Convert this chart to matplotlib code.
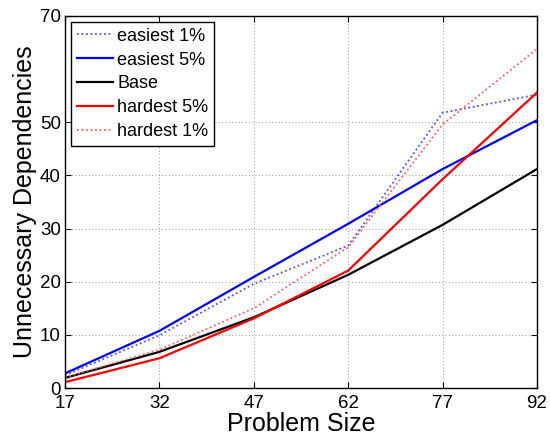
import matplotlib
matplotlib.use("Agg")
import matplotlib.pyplot as plt

plt.rcParams['font.family'] = ['Liberation Sans', 'DejaVu Sans']

sizes = [17, 32, 47, 62, 77, 92]
easiest1 = [2.4, 9.9, 19.6, 26.8, 51.8, 55.2]
easiest5 = [2.75, 10.75, 20.9, 30.9, 41.2, 50.4]
base = [1.9, 6.8, 13.3, 21.3, 30.7, 41.2]
hardest5 = [1.1, 5.6, 13.1, 22.1, 39.3, 55.6]
hardest1 = [2.0, 7.2, 15.0, 26.5, 49.6, 63.8]
yticks = [0, 10, 20, 30, 40, 50, 70]

fig = plt.figure(figsize=(5.5, 4.36), dpi=100)
ax = fig.add_axes([65/550, 1-388/436, (537-65)/550, (388-16)/436])

ax.plot(sizes, easiest1, color='#5050ff', linestyle=(0, (1, 1.5)), linewidth=1.3, label='easiest 1%')
ax.plot(sizes, easiest5, color='#0000ff', linestyle='-', linewidth=1.6, label='easiest 5%')
ax.plot(sizes, base, color='black', linestyle='-', linewidth=1.6, label='Base')
ax.plot(sizes, hardest5, color='#ff0000', linestyle='-', linewidth=1.6, label='hardest 5%')
ax.plot(sizes, hardest1, color='#ff6060', linestyle=(0, (1, 1.5)), linewidth=1.3, label='hardest 1%')

ax.set_xlim(17, 92)
ax.set_ylim(0, 70)
ax.set_xticks(sizes)
ax.set_yticks(yticks)
ax.tick_params(direction='in', top=True, right=True, labelsize=13.5, length=4, width=0.8)
ax.tick_params(axis='x', pad=5)
ax.tick_params(axis='y', pad=3)
ax.grid(True, linestyle=(0, (1, 3)), color='#777777', linewidth=0.6)
for s in ax.spines.values():
    s.set_linewidth(1.0)

ax.set_xlabel('Problem Size', fontsize=18, labelpad=0)
ax.set_ylabel('Unnecessary Dependencies', fontsize=18, labelpad=2)

leg = ax.legend(loc='upper left', fontsize=13, frameon=True, fancybox=False,
                edgecolor='black', framealpha=1, borderpad=0.3, labelspacing=0.38,
                handlelength=2.0, handletextpad=0.25, borderaxespad=0.35)
leg.get_frame().set_linewidth(1.0)

fig.savefig('out.png', dpi=100)
